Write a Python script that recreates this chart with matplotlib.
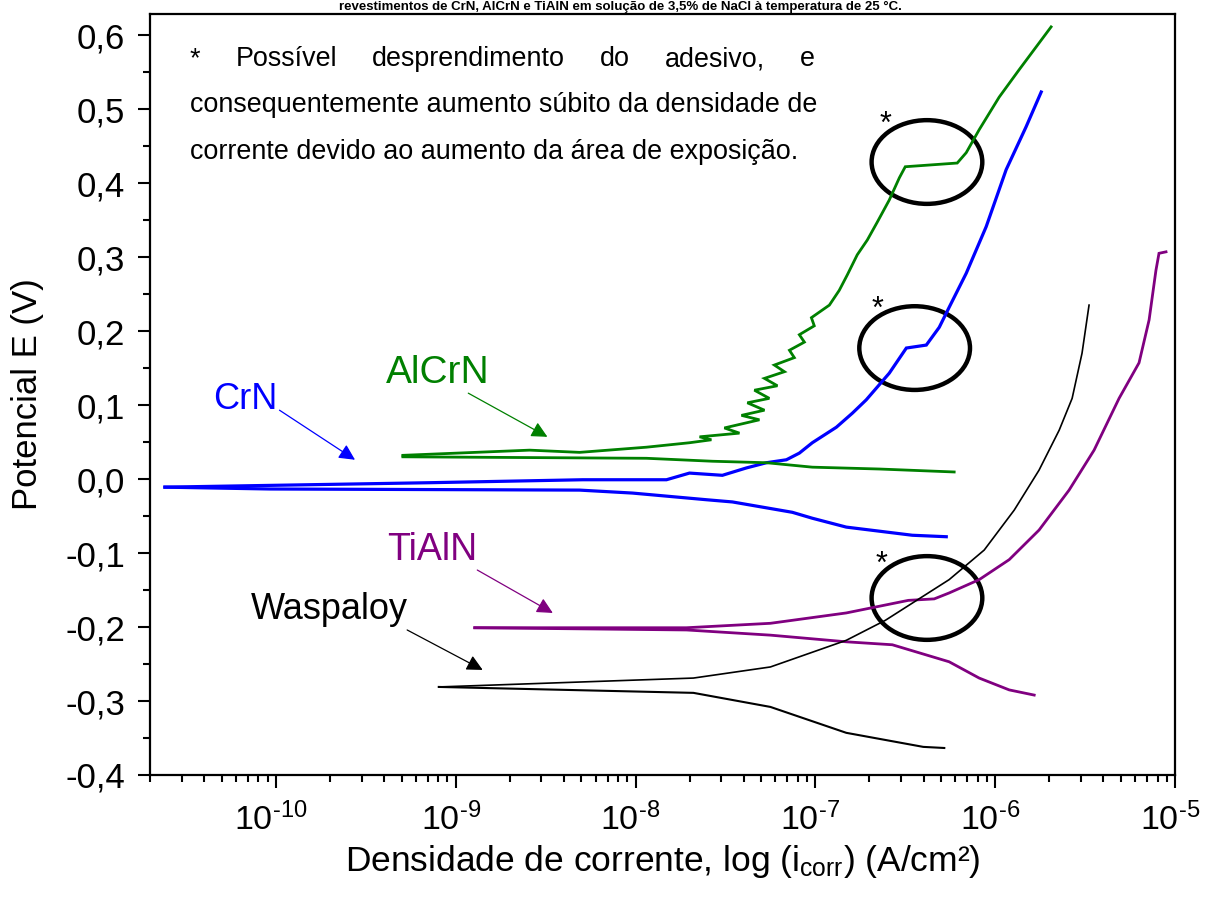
import numpy as np
import matplotlib
matplotlib.use("Agg")
import matplotlib.pyplot as plt
import matplotlib.transforms as mtransforms
from matplotlib.ticker import FuncFormatter, LogLocator, NullFormatter, MultipleLocator
from matplotlib.patches import Ellipse

plt.rcParams['font.family'] = ['Liberation Sans', 'DejaVu Sans']
plt.rcParams['mathtext.fontset'] = 'custom'
plt.rcParams['mathtext.rm'] = 'Liberation Sans'
plt.rcParams['mathtext.it'] = 'Liberation Sans:italic'
plt.rcParams['mathtext.bf'] = 'Liberation Sans:bold'

# ---- polarization curves: log10(i / A cm^-2) and potential E (V) ----
# CrN
crn_anod_logi = [-10.617, -9.144, -8.294, -7.828, -7.700, -7.517, -7.383, -7.272, -7.161,
                 -7.089, -7.017, -6.883, -6.794, -6.717, -6.589, -6.494, -6.383, -6.311,
                 -6.256, -6.161, -6.050, -5.939, -5.828, -5.744]
crn_anod_E = [-0.011, -0.005, -0.001, -0.001, 0.008, 0.005, 0.015, 0.022, 0.026,
              0.035, 0.049, 0.070, 0.089, 0.107, 0.143, 0.177, 0.181, 0.205,
              0.232, 0.278, 0.341, 0.418, 0.476, 0.523]
crn_cath_logi = [-10.617, -10.033, -8.311, -8.017, -7.606, -7.461, -7.128, -7.017, -6.828,
                 -6.461, -6.272]
crn_cath_E = [-0.011, -0.0135, -0.015, -0.019, -0.028, -0.031, -0.045, -0.053, -0.065,
              -0.076, -0.078]

# AlCrN
alcrn_anod_logi = [-9.294, -8.589, -8.311, -7.939, -7.700, -7.578, -7.644, -7.422, -7.506,
                   -7.311, -7.411, -7.283, -7.378, -7.256, -7.339, -7.211, -7.283, -7.172,
                   -7.228, -7.117, -7.144, -7.061, -7.089, -7.006, -7.022, -6.922, -6.867,
                   -6.822, -6.767, -6.711, -6.656, -6.589, -6.533, -6.500, -6.211, -6.161,
                   -6.089, -5.978, -5.867, -5.689]
alcrn_anod_E = [0.032, 0.039, 0.036, 0.043, 0.049, 0.053, 0.057, 0.062, 0.069,
                0.080, 0.086, 0.093, 0.103, 0.109, 0.120, 0.126, 0.136, 0.145,
                0.154, 0.164, 0.174, 0.185, 0.195, 0.207, 0.218, 0.235, 0.255,
                0.276, 0.303, 0.323, 0.347, 0.377, 0.407, 0.422, 0.427, 0.441,
                0.472, 0.516, 0.553, 0.611]
alcrn_cath_logi = [-9.294, -7.939, -7.572, -7.272, -7.017, -6.644, -6.228]
alcrn_cath_E = [0.030, 0.028, 0.024, 0.022, 0.016, 0.0135, 0.0095]

# TiAlN
tialn_anod_logi = [-8.894, -7.717, -7.250, -6.828, -6.483, -6.339, -6.256, -6.089, -5.922,
                   -5.756, -5.589, -5.450, -5.311, -5.200, -5.144, -5.106, -5.089, -5.050]
tialn_anod_E = [-0.201, -0.201, -0.195, -0.181, -0.164, -0.162, -0.154, -0.136, -0.109,
                -0.069, -0.015, 0.039, 0.109, 0.157, 0.215, 0.282, 0.305, 0.307]
tialn_cath_logi = [-8.894, -7.717, -7.250, -6.828, -6.572, -6.256, -6.089, -5.922, -5.783]
tialn_cath_E = [-0.201, -0.204, -0.211, -0.220, -0.224, -0.247, -0.269, -0.285, -0.292]

# Waspaloy
wasp_anod_logi = [-9.094, -7.678, -7.250, -6.828, -6.611, -6.256, -6.061, -5.894, -5.756,
                  -5.644, -5.572, -5.517, -5.478]
wasp_anod_E = [-0.281, -0.269, -0.254, -0.218, -0.191, -0.136, -0.096, -0.042, 0.012,
               0.066, 0.109, 0.170, 0.235]
wasp_cath_logi = [-9.094, -7.678, -7.250, -6.828, -6.400, -6.283]
wasp_cath_E = [-0.281, -0.289, -0.308, -0.343, -0.362, -0.3635]

y_ticks = [-0.4, -0.3, -0.2, -0.1, 0.0, 0.1, 0.2, 0.3, 0.4, 0.5, 0.6]
x_decades = [-10, -9, -8, -7, -6, -5]

GREEN = '#008000'
BLUE = '#0000ff'
PURPLE = '#800080'
BLACK = '#000000'

W, H = 1205, 909
fig = plt.figure(figsize=(W / 100, H / 100), dpi=100)
fig.patch.set_facecolor('white')
ax = fig.add_axes([150 / W, 134 / H, 1025 / W, 761 / H])


def curve(logi, E, color, lw):
    ax.plot(10 ** np.asarray(logi), E, color=color, lw=lw, solid_joinstyle='miter')


curve(crn_cath_logi, crn_cath_E, BLUE, 2.3)
curve(crn_anod_logi, crn_anod_E, BLUE, 2.3)
curve(alcrn_cath_logi, alcrn_cath_E, GREEN, 2.0)
curve(alcrn_anod_logi, alcrn_anod_E, GREEN, 2.0)
curve(tialn_cath_logi, tialn_cath_E, PURPLE, 2.0)
curve(tialn_anod_logi, tialn_anod_E, PURPLE, 2.0)
curve(wasp_cath_logi, wasp_cath_E, BLACK, 1.5)
curve(wasp_anod_logi, wasp_anod_E, BLACK, 1.2)

ax.set_xscale('log')
ax.set_xlim(10 ** -10.7, 1e-5)
ax.set_ylim(-0.4, 0.6284)

ax.xaxis.set_minor_locator(LogLocator(base=10, subs=np.arange(2, 10)))
ax.xaxis.set_minor_formatter(NullFormatter())
ax.set_xticks([10.0 ** d for d in x_decades])
ax.set_xticklabels([r'$\mathregular{10^{\text{-}%d}}$' % abs(d) for d in x_decades])

ax.set_yticks(y_ticks)
ax.yaxis.set_minor_locator(MultipleLocator(0.05))
ax.yaxis.set_major_formatter(FuncFormatter(lambda v, p: ('%.1f' % v).replace('.', ',')))

ax.tick_params(axis='both', which='major', direction='out', length=9, width=1.5,
               labelsize=25, top=False, right=False)
ax.tick_params(axis='y', which='major', pad=9)
ax.tick_params(axis='x', which='major', pad=11, labelsize=24.5)
ax.tick_params(axis='both', which='minor', direction='out', length=5, width=1.5,
               top=False, right=False)
shift = mtransforms.ScaledTranslation(-5 / 100, 0, fig.dpi_scale_trans)
for lab in ax.get_xticklabels():
    lab.set_transform(lab.get_transform() + shift)
for s in ax.spines.values():
    s.set_linewidth(1.6)

ax.set_ylabel('Potencial E (V)', fontsize=25, labelpad=15)
ax.set_xlabel(r'Densidade de corrente, log (i$_\mathregular{corr}$) (A/cm²)', fontsize=25.5,
              va='top')
ax.xaxis.set_label_coords(0.5, -0.09)

# curve labels with arrows
labels = [
    ('AlCrN', GREEN, 28, (-9.10, 0.143), (-8.93, 0.116), (-8.49, 0.057)),
    ('CrN', BLUE, 26, (-10.17, 0.107), (-9.98, 0.093), (-9.56, 0.026)),
    ('TiAlN', PURPLE, 27, (-9.13, -0.096), (-8.88, -0.123), (-8.46, -0.181)),
    ('Waspaloy', BLACK, 26, (-9.70, -0.177), (-9.27, -0.204), (-8.85, -0.258)),
]
for name, col, fs, tpos, tail, head in labels:
    ax.text(10 ** tpos[0], tpos[1], name, color=col, fontsize=fs, ha='center', va='center')
    ax.annotate('', xy=(10 ** head[0], head[1]), xytext=(10 ** tail[0], tail[1]),
                arrowprops=dict(arrowstyle='-|>', color=col, lw=0.9, mutation_scale=24,
                                shrinkA=0, shrinkB=0))

# highlighted regions
for cx, cy in [(0.758, 0.8055), (0.746, 0.561), (0.758, 0.2326)]:
    ax.add_patch(Ellipse((cx, cy), 0.108, 0.110, transform=ax.transAxes, fill=False,
                         edgecolor='black', lw=3.2))
for px, py in [(885, 125), (877, 310), (882, 565)]:
    fig.text(px / W, 1 - py / H, '*', fontsize=22, ha='center', va='center')

# note text, first line justified between the block margins
note_fs = 19.4
left_px, right_px = 190, 815
first_words = ['*', 'Possível', 'desprendimento', 'do', 'adesivo,', 'e']
renderer = fig.canvas.get_renderer()
word_objs = [fig.text(0, 1 - 66 / H, w, fontsize=note_fs, ha='left', va='baseline')
             for w in first_words]
widths = [t.get_window_extent(renderer).width for t in word_objs]
gap = (right_px - left_px - sum(widths)) / (len(first_words) - 1)
xpos = left_px
for t, w in zip(word_objs, widths):
    t.set_x(xpos / W)
    xpos += w + gap
fig.text(left_px / W, 1 - 112 / H, 'consequentemente aumento súbito da densidade de',
         fontsize=note_fs, ha='left', va='baseline')
fig.text(left_px / W, 1 - 159 / H, 'corrente devido ao aumento da área de exposição.',
         fontsize=note_fs, ha='left', va='baseline')

# caption line above the frame
fig.text(620 / W, 1 - 1 / H,
         'revestimentos de CrN, AlCrN e TiAlN em solução de 3,5% de NaCl à temperatura de 25 °C.',
         fontsize=9.5, fontweight='bold', ha='center', va='top')

fig.savefig('out.png', dpi=100, facecolor='white')
